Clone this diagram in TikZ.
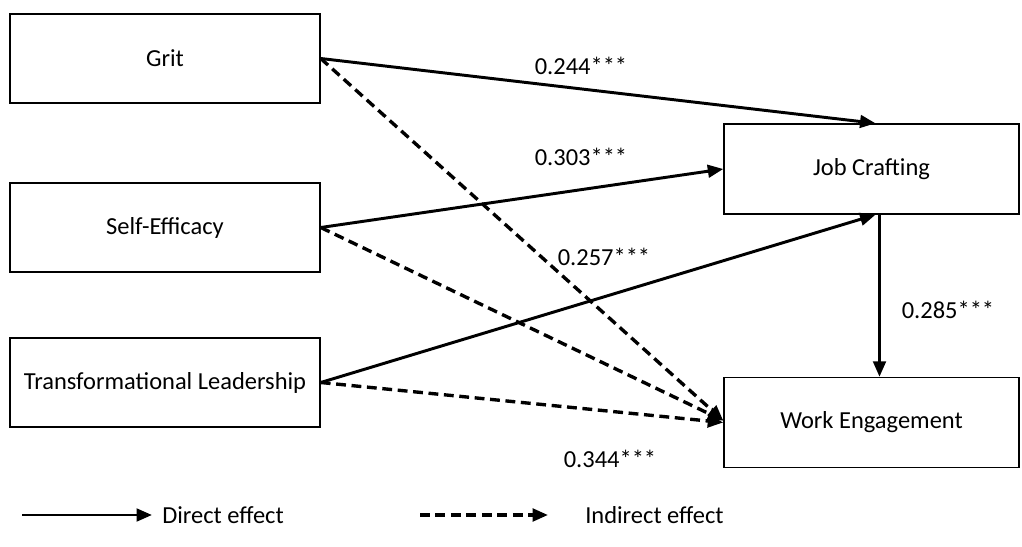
\documentclass[tikz,border=0pt]{standalone}
\usepackage{fontspec}
\setmainfont{Carlito}
\usepackage{tikz}
\usetikzlibrary{arrows.meta, positioning, calc}

\begin{document}
\begin{tikzpicture}[
    x=0.025cm, y=-0.025cm,
    construct/.style={draw, line width=1pt, minimum width=7.75cm, minimum height=2.225cm, inner sep=0pt, font=\fontsize{17.4}{20}\selectfont},
    outcome/.style={construct, minimum width=7.375cm, minimum height=2.25cm},
    coef/.style={font=\fontsize{17.4}{20}\selectfont, inner sep=0pt},
    direct/.style={line width=2.1pt, -{Triangle[length=11pt,width=9pt]}},
    indirect/.style={direct, line width=2.4pt, dash pattern=on 7pt off 4pt},
]
    \useasboundingbox (0,0) rectangle (1022,547);

    % Predictors
    \node[construct] (grit) at (165, 58.5) {Grit};
    \node[construct] (efficacy) at (165, 227.5) {Self-Efficacy};
    \node[construct] (leader) at (165, 382.5) {Transformational Leadership};

    % Mediator and outcome
    \node[outcome] (crafting) at (871.5, 169) {Job Crafting};
    \node[outcome] (engage) at (871.5, 422.5) {Work Engagement};

    % Direct effects
    \draw[direct] (grit.east) -- ([xshift=0.1cm]crafting.north);
    \draw[direct] (efficacy.east) -- (crafting.west);
    \draw[direct] (leader.east) -- ([xshift=0.1cm]crafting.south);
    \draw[direct] ([xshift=0.2cm]crafting.south) -- ([xshift=0.2cm]engage.north);

    % Indirect effects
    \draw[indirect] (grit.east) -- ([yshift=0.05cm]engage.west);
    \draw[indirect] (efficacy.east) -- ([yshift=0.05cm]engage.west);
    \draw[indirect] (leader.east) -- (engage.west);

    % Coefficients
    \node[coef] (c244) at (581, 66) {0.244***};
    \node[coef] (c303) at (581, 157) {0.303***};
    \node[coef] (c257) at (604, 257) {0.257***};
    \node[coef] (c285) at (948, 310) {0.285***};
    \node[coef] (c344) at (610, 459) {0.344***};

    % Legend
    \coordinate (solidA) at (22, 515);
    \coordinate (solidB) at (152, 515);
    \coordinate (dashA) at (420, 515);
    \coordinate (dashB) at (548, 515);
    \draw[direct] (solidA) -- (solidB);
    \draw[indirect] (dashA) -- (dashB);
    \node[coef, anchor=west] (directlbl) at (162, 515) {Direct effect};
    \node[coef, anchor=west] (indirectlbl) at (585, 515) {Indirect effect};
\end{tikzpicture}
\end{document}
